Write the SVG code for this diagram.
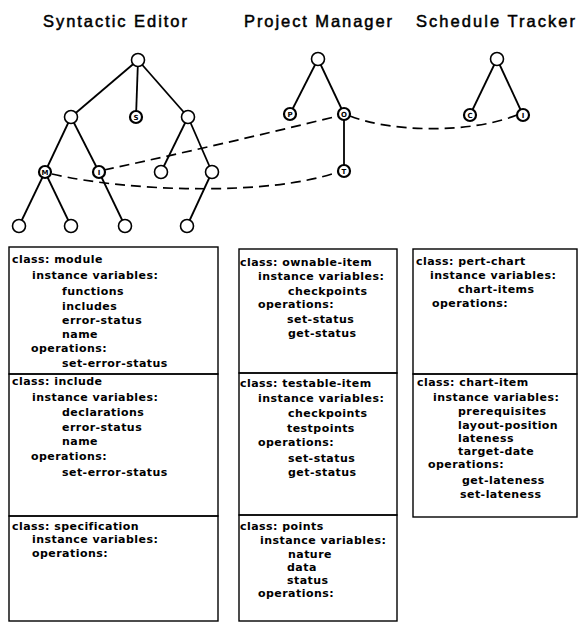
<svg xmlns="http://www.w3.org/2000/svg" width="580" height="622" viewBox="0 0 580 622">
<style>
.t{font-family:"Liberation Sans",Arial,sans-serif;font-size:16.5px;fill:#000;stroke:#000;stroke-width:0.5}
.x{font-family:"DejaVu Sans","Liberation Sans",sans-serif;font-weight:bold;font-size:11px;letter-spacing:0.45px;fill:#000}
.e{stroke:#000;stroke-width:1.8;fill:none}
.n{fill:#fff;stroke:#000;stroke-width:1.6}
.m{fill:#fff;stroke:#000;stroke-width:2.2}
.l{font-family:"DejaVu Sans",sans-serif;font-weight:bold;font-size:7px;text-anchor:middle;fill:#000}
.d{stroke:#000;stroke-width:1.7;fill:none;stroke-dasharray:10 6}
.b{fill:none;stroke:#000;stroke-width:1.4}
</style>
<rect width="580" height="622" fill="#fff"/>
<g id="titles">
<text class="t" x="43" y="27" textLength="144" lengthAdjust="spacing">Syntactic Editor</text>
<text class="t" x="244" y="27" textLength="148" lengthAdjust="spacing">Project Manager</text>
<text class="t" x="416" y="27" textLength="159" lengthAdjust="spacing">Schedule Tracker</text>
</g>
<g id="connectors">
<line class="e" x1="138" y1="60" x2="71" y2="117"/>
<line class="e" x1="138" y1="60" x2="136" y2="117"/>
<line class="e" x1="138" y1="60" x2="188" y2="117"/>
<line class="e" x1="71" y1="117" x2="45" y2="172"/>
<line class="e" x1="71" y1="117" x2="99" y2="172"/>
<line class="e" x1="188" y1="117" x2="161" y2="172"/>
<line class="e" x1="188" y1="117" x2="212" y2="172"/>
<line class="e" x1="45" y1="172" x2="19" y2="226"/>
<line class="e" x1="45" y1="172" x2="71" y2="226"/>
<line class="e" x1="99" y1="172" x2="125" y2="226"/>
<line class="e" x1="212" y1="172" x2="187" y2="226"/>
<line class="e" x1="318" y1="59" x2="290" y2="114"/>
<line class="e" x1="318" y1="59" x2="344" y2="114"/>
<line class="e" x1="344" y1="114" x2="344" y2="171"/>
<line class="e" x1="497" y1="59" x2="470" y2="115"/>
<line class="e" x1="497" y1="59" x2="523" y2="115"/>
<path class="d" d="M104 170 Q220 145 338 116"/>
<path class="d" d="M350 116 C390 132 470 134 517 115"/>
<path class="d" d="M52 174 C130 192 270 196 338 172"/>
</g>
<g id="se-root"><circle class="n" cx="138" cy="60" r="6.5"/></g>
<g id="se-a"><circle class="n" cx="71" cy="117" r="6.5"/></g>
<g id="se-s"><circle class="m" cx="136" cy="117" r="6"/><text class="l" x="136" y="119.5">S</text></g>
<g id="se-b"><circle class="n" cx="188" cy="117" r="6.5"/></g>
<g id="se-m"><circle class="m" cx="45" cy="172" r="6"/><text class="l" x="45" y="174.5">M</text></g>
<g id="se-i"><circle class="m" cx="99" cy="172" r="6"/><text class="l" x="99" y="174.5">I</text></g>
<g id="se-c"><circle class="n" cx="161" cy="172" r="6.5"/></g>
<g id="se-d"><circle class="n" cx="212" cy="172" r="6.5"/></g>
<g id="se-e"><circle class="n" cx="19" cy="226" r="6.5"/></g>
<g id="se-f"><circle class="n" cx="71" cy="226" r="6.5"/></g>
<g id="se-g"><circle class="n" cx="125" cy="226" r="6.5"/></g>
<g id="se-h"><circle class="n" cx="187" cy="226" r="6.5"/></g>
<g id="pm-root"><circle class="n" cx="318" cy="59" r="6.5"/></g>
<g id="pm-p"><circle class="m" cx="290" cy="114" r="6"/><text class="l" x="290" y="116.5">P</text></g>
<g id="pm-o"><circle class="m" cx="344" cy="114" r="6"/><text class="l" x="344" y="116.5">O</text></g>
<g id="pm-t"><circle class="m" cx="344" cy="171" r="6"/><text class="l" x="344" y="173.5">T</text></g>
<g id="st-root"><circle class="n" cx="497" cy="59" r="6.5"/></g>
<g id="st-c"><circle class="m" cx="470" cy="115" r="6"/><text class="l" x="470" y="117.5">C</text></g>
<g id="st-i"><circle class="m" cx="523" cy="115" r="6"/><text class="l" x="523" y="117.5">I</text></g>

<g id="class-module">
<rect class="b" x="9" y="247" width="209" height="127"/>
<text class="x" x="12" y="263">class: module</text>
<text class="x" x="32" y="279">instance variables:</text>
<text class="x" x="62" y="295">functions</text>
<text class="x" x="62" y="310">includes</text>
<text class="x" x="62" y="324">error-status</text>
<text class="x" x="62" y="338">name</text>
<text class="x" x="31" y="352">operations:</text>
<text class="x" x="62" y="367">set-error-status</text>
</g>
<g id="class-include">
<rect class="b" x="9" y="374" width="209" height="142"/>
<text class="x" x="12" y="385">class: include</text>
<text class="x" x="32" y="401">instance variables:</text>
<text class="x" x="62" y="416">declarations</text>
<text class="x" x="62" y="431">error-status</text>
<text class="x" x="62" y="445">name</text>
<text class="x" x="31" y="460">operations:</text>
<text class="x" x="62" y="476">set-error-status</text>
</g>
<g id="class-specification">
<rect class="b" x="9" y="516" width="209" height="105"/>
<text class="x" x="12" y="530">class: specification</text>
<text class="x" x="32" y="543">instance variables:</text>
<text class="x" x="32" y="557">operations:</text>
</g>
<g id="class-ownable-item">
<rect class="b" x="239" y="249" width="158" height="124"/>
<text class="x" x="240" y="266">class: ownable-item</text>
<text class="x" x="258" y="280">instance variables:</text>
<text class="x" x="288" y="295">checkpoints</text>
<text class="x" x="258" y="308">operations:</text>
<text class="x" x="287" y="323">set-status</text>
<text class="x" x="288" y="337">get-status</text>
</g>
<g id="class-testable-item">
<rect class="b" x="239" y="373" width="158" height="142"/>
<text class="x" x="240" y="387">class: testable-item</text>
<text class="x" x="258" y="402">instance variables:</text>
<text class="x" x="288" y="417">checkpoints</text>
<text class="x" x="287" y="432">testpoints</text>
<text class="x" x="258" y="446">operations:</text>
<text class="x" x="288" y="462">set-status</text>
<text class="x" x="288" y="476">get-status</text>
</g>
<g id="class-points">
<rect class="b" x="239" y="515" width="158" height="106"/>
<text class="x" x="240" y="530">class: points</text>
<text class="x" x="260" y="544">instance variables:</text>
<text class="x" x="288" y="558">nature</text>
<text class="x" x="287" y="571">data</text>
<text class="x" x="287" y="584">status</text>
<text class="x" x="258" y="597">operations:</text>
</g>
<g id="class-pert-chart">
<rect class="b" x="413" y="249" width="164" height="125"/>
<text class="x" x="416" y="265">class: pert-chart</text>
<text class="x" x="430" y="279">instance variables:</text>
<text class="x" x="458" y="293">chart-items</text>
<text class="x" x="432" y="307">operations:</text>
</g>
<g id="class-chart-item">
<rect class="b" x="413" y="374" width="164" height="143"/>
<text class="x" x="417" y="386">class: chart-item</text>
<text class="x" x="433" y="401">instance variables:</text>
<text class="x" x="458" y="415">prerequisites</text>
<text class="x" x="458" y="429">layout-position</text>
<text class="x" x="458" y="442">lateness</text>
<text class="x" x="458" y="455">target-date</text>
<text class="x" x="428" y="468">operations:</text>
<text class="x" x="462" y="484">get-lateness</text>
<text class="x" x="460" y="498">set-lateness</text>
</g>
</svg>
